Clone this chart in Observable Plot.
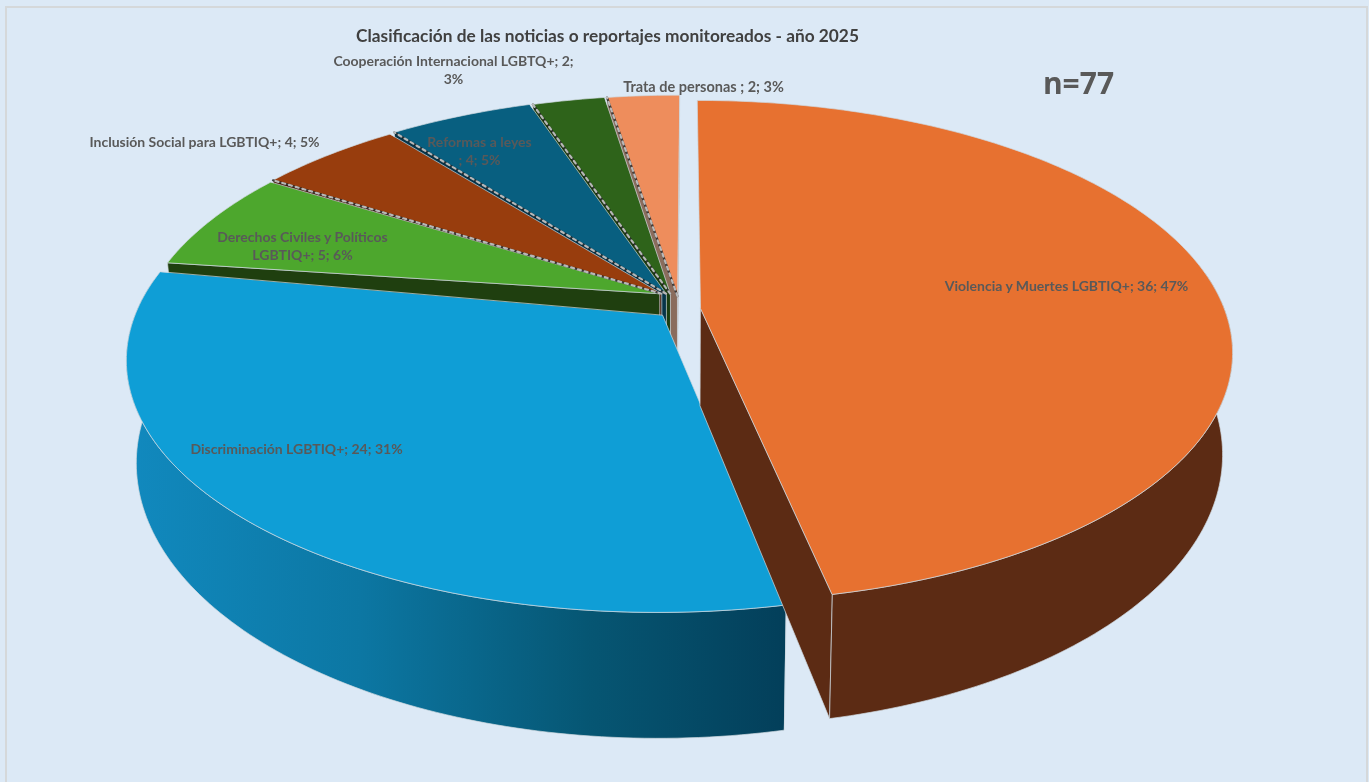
<!DOCTYPE html>
<html><head><meta charset="utf-8">
<style>html,body{margin:0;padding:0;background:#dce9f6;overflow:hidden}svg{display:block;filter:blur(.4px)}</style>
<script src="https://cdn.jsdelivr.net/npm/d3@7"></script>
<script src="https://cdn.jsdelivr.net/npm/@observablehq/plot@0.6"></script>
</head><body><script>
const categories = ["Violencia y Muertes LGBTIQ+","Discriminación LGBTIQ+","Derechos Civiles y Políticos LGBTIQ+","Inclusión Social para LGBTIQ+","Reformas a leyes","Cooperación Internacional LGBTQ+","Trata de personas"];
const values = [36,24,5,4,4,2,2];
const topColors = ["#E77130","#0F9ED6","#4DA72D","#983D0D","#085F80","#2E631A","#EE8D5C"];
const wallColors = ["#5C2B14","url(#blueWall)","#1F3F0F","#4A1E08","#063449","#1B3D10","#8A6C5C"];
const paintOrder = [6,5,4,3,2,1,0];
const explodeX = [.042,-.033,-.025,-.021,-.012,-.004,.002];
const explodeY = [-.04,-.07,-.03,-.02,-.01,-.01,-.01];
const apexX = [0,.003,-.012,-.012,-.012,-.012,-.004];
const apexY = [0,0,.05,.04,.03,.03,.02];
const titleText = "Clasificación de las noticias o reportajes monitoreados - año 2025";
const sampleText = "n=77";

const total = d3.sum(values);
const cx = 678, cy = 298, R = 520, K = 240, P = .17, D = 97;
function proj(a, r, z, ex, ey){
  const X = r*Math.sin(a) + ex, Y = r*Math.cos(a) + ey;
  const s = 1/(1 + P*Y);
  const m = 1 - .018*z;
  return {x: cx + (R*X*s)*m, y: cy - K*Y*s + z*D*Math.pow(s,1.3)};
}
let acc = 0;
const slices = values.map((v,i)=>{const a0=acc/total*2*Math.PI; acc+=v; return {i,a0,a1:acc/total*2*Math.PI};});
const shapes = [], cuts = [];
function add(id, fill, pts){pts.forEach(p=>shapes.push({id,fill,x:p.x,y:p.y}));}
paintOrder.forEach((i,o)=>{
  const {a0,a1} = slices[i], ex=explodeX[i], ey=explodeY[i];
  const n = Math.max(4,Math.ceil((a1-a0)/(Math.PI/180)));
  const arc = d3.range(n+1).map(k=>a0+(a1-a0)*k/n);
  const w = wallColors[i];
  const apexTop = proj(0,0,0,ex+apexX[i],ey+apexY[i]), apexBot = proj(0,0,1,ex+apexX[i],ey+apexY[i]);
  if (Math.sin(a0) < 0) add(`${o}a`,w,[apexTop,proj(a0,1,0,ex,ey),proj(a0,1,1,ex,ey),apexBot]);
  if (Math.sin(a1) > -.01) add(`${o}b`,w,[apexTop,proj(a1,1,0,ex,ey),proj(a1,1,1,ex,ey),apexBot]);
  const front = arc.filter(a=>Math.cos(a) < .15);
  if (front.length>1) add(`${o}c`,w,[...front.map(a=>proj(a,1,0,ex,ey)),...front.slice().reverse().map(a=>proj(a,1,1,ex,ey))]);
  add(`${o}d`,topColors[i],[apexTop,...arc.map(a=>proj(a,1,0,ex,ey))]);
  if (i>=3) [apexTop,proj(a0,1,0,ex,ey)].forEach(p=>cuts.push({id:`${i}`,x:p.x,y:p.y}));
});
const defs = () => {
  const d = d3.create("svg:defs");
  const g = d.append("linearGradient").attr("id","blueWall").attr("gradientUnits","userSpaceOnUse")
    .attr("x1",130).attr("x2",785).attr("y1",0).attr("y2",0);
  [[0,"#1189BE"],[.35,"#0C77A3"],[.7,"#065673"],[1,"#033F5A"]].forEach(([o,c])=>g.append("stop").attr("offset",o).attr("stop-color",c));
  return d.node();
};
const label = (text,dx,dy,opt={}) => Plot.text([text],{frameAnchor:"top-left",dx,dy,text:d=>d,textAnchor:"middle",lineAnchor:"middle",
  fontFamily:"Lato",fontWeight:700,fontSize:14,fill:"#595959",lineHeight:1.3,...opt});

const plot = Plot.plot({
  width:1369,height:782,margin:0,
  x:{domain:[0,1369],range:[0,1369],axis:null},
  y:{domain:[0,782],range:[0,782],axis:null},
  style:{background:"#dce9f6"},
  marks:[
    defs,
    Plot.ruleX([5.5,1366.5],{y1:6,y2:782,stroke:"#d5d8da",strokeWidth:2}),
    Plot.ruleY([6.5],{x1:5,x2:1367,stroke:"#d5d8da",strokeWidth:2}),
    Plot.line(shapes,{x:"x",y:"y",z:"id",fill:"fill",stroke:"#cfd8df",strokeWidth:1,strokeOpacity:.7,curve:"linear-closed"}),
    Plot.line(cuts,{x:"x",y:"y",z:"id",stroke:"#1c1c1c",strokeWidth:2.2,strokeOpacity:.8}),
    Plot.line(cuts,{x:"x",y:"y",z:"id",stroke:"#d8d8d8",strokeWidth:2.2,strokeOpacity:.8,strokeDasharray:"3,4"}),
    label(titleText,607,34,{fontSize:17.3,fill:"#404040"}),
    label("Cooperación Internacional LGBTQ+; 2;\n3%",453,69),
    label("Trata de personas ; 2; 3%",703,85,{fontSize:14.5}),
    label("Inclusión Social para LGBTIQ+; 4; 5%",204,141),
    label("Reformas a leyes\n; 4; 5%",479,150),
    label("Derechos Civiles y Políticos\nLGBTIQ+; 5; 6%",302,245),
    label("Violencia y Muertes LGBTIQ+; 36; 47%",1066,285),
    label("Discriminación LGBTIQ+; 24; 31%",296,448),
    label(sampleText,1078,81,{fontFamily:"Open Sans",fontSize:30})
  ]
});
document.body.append(plot);
</script></body></html>
